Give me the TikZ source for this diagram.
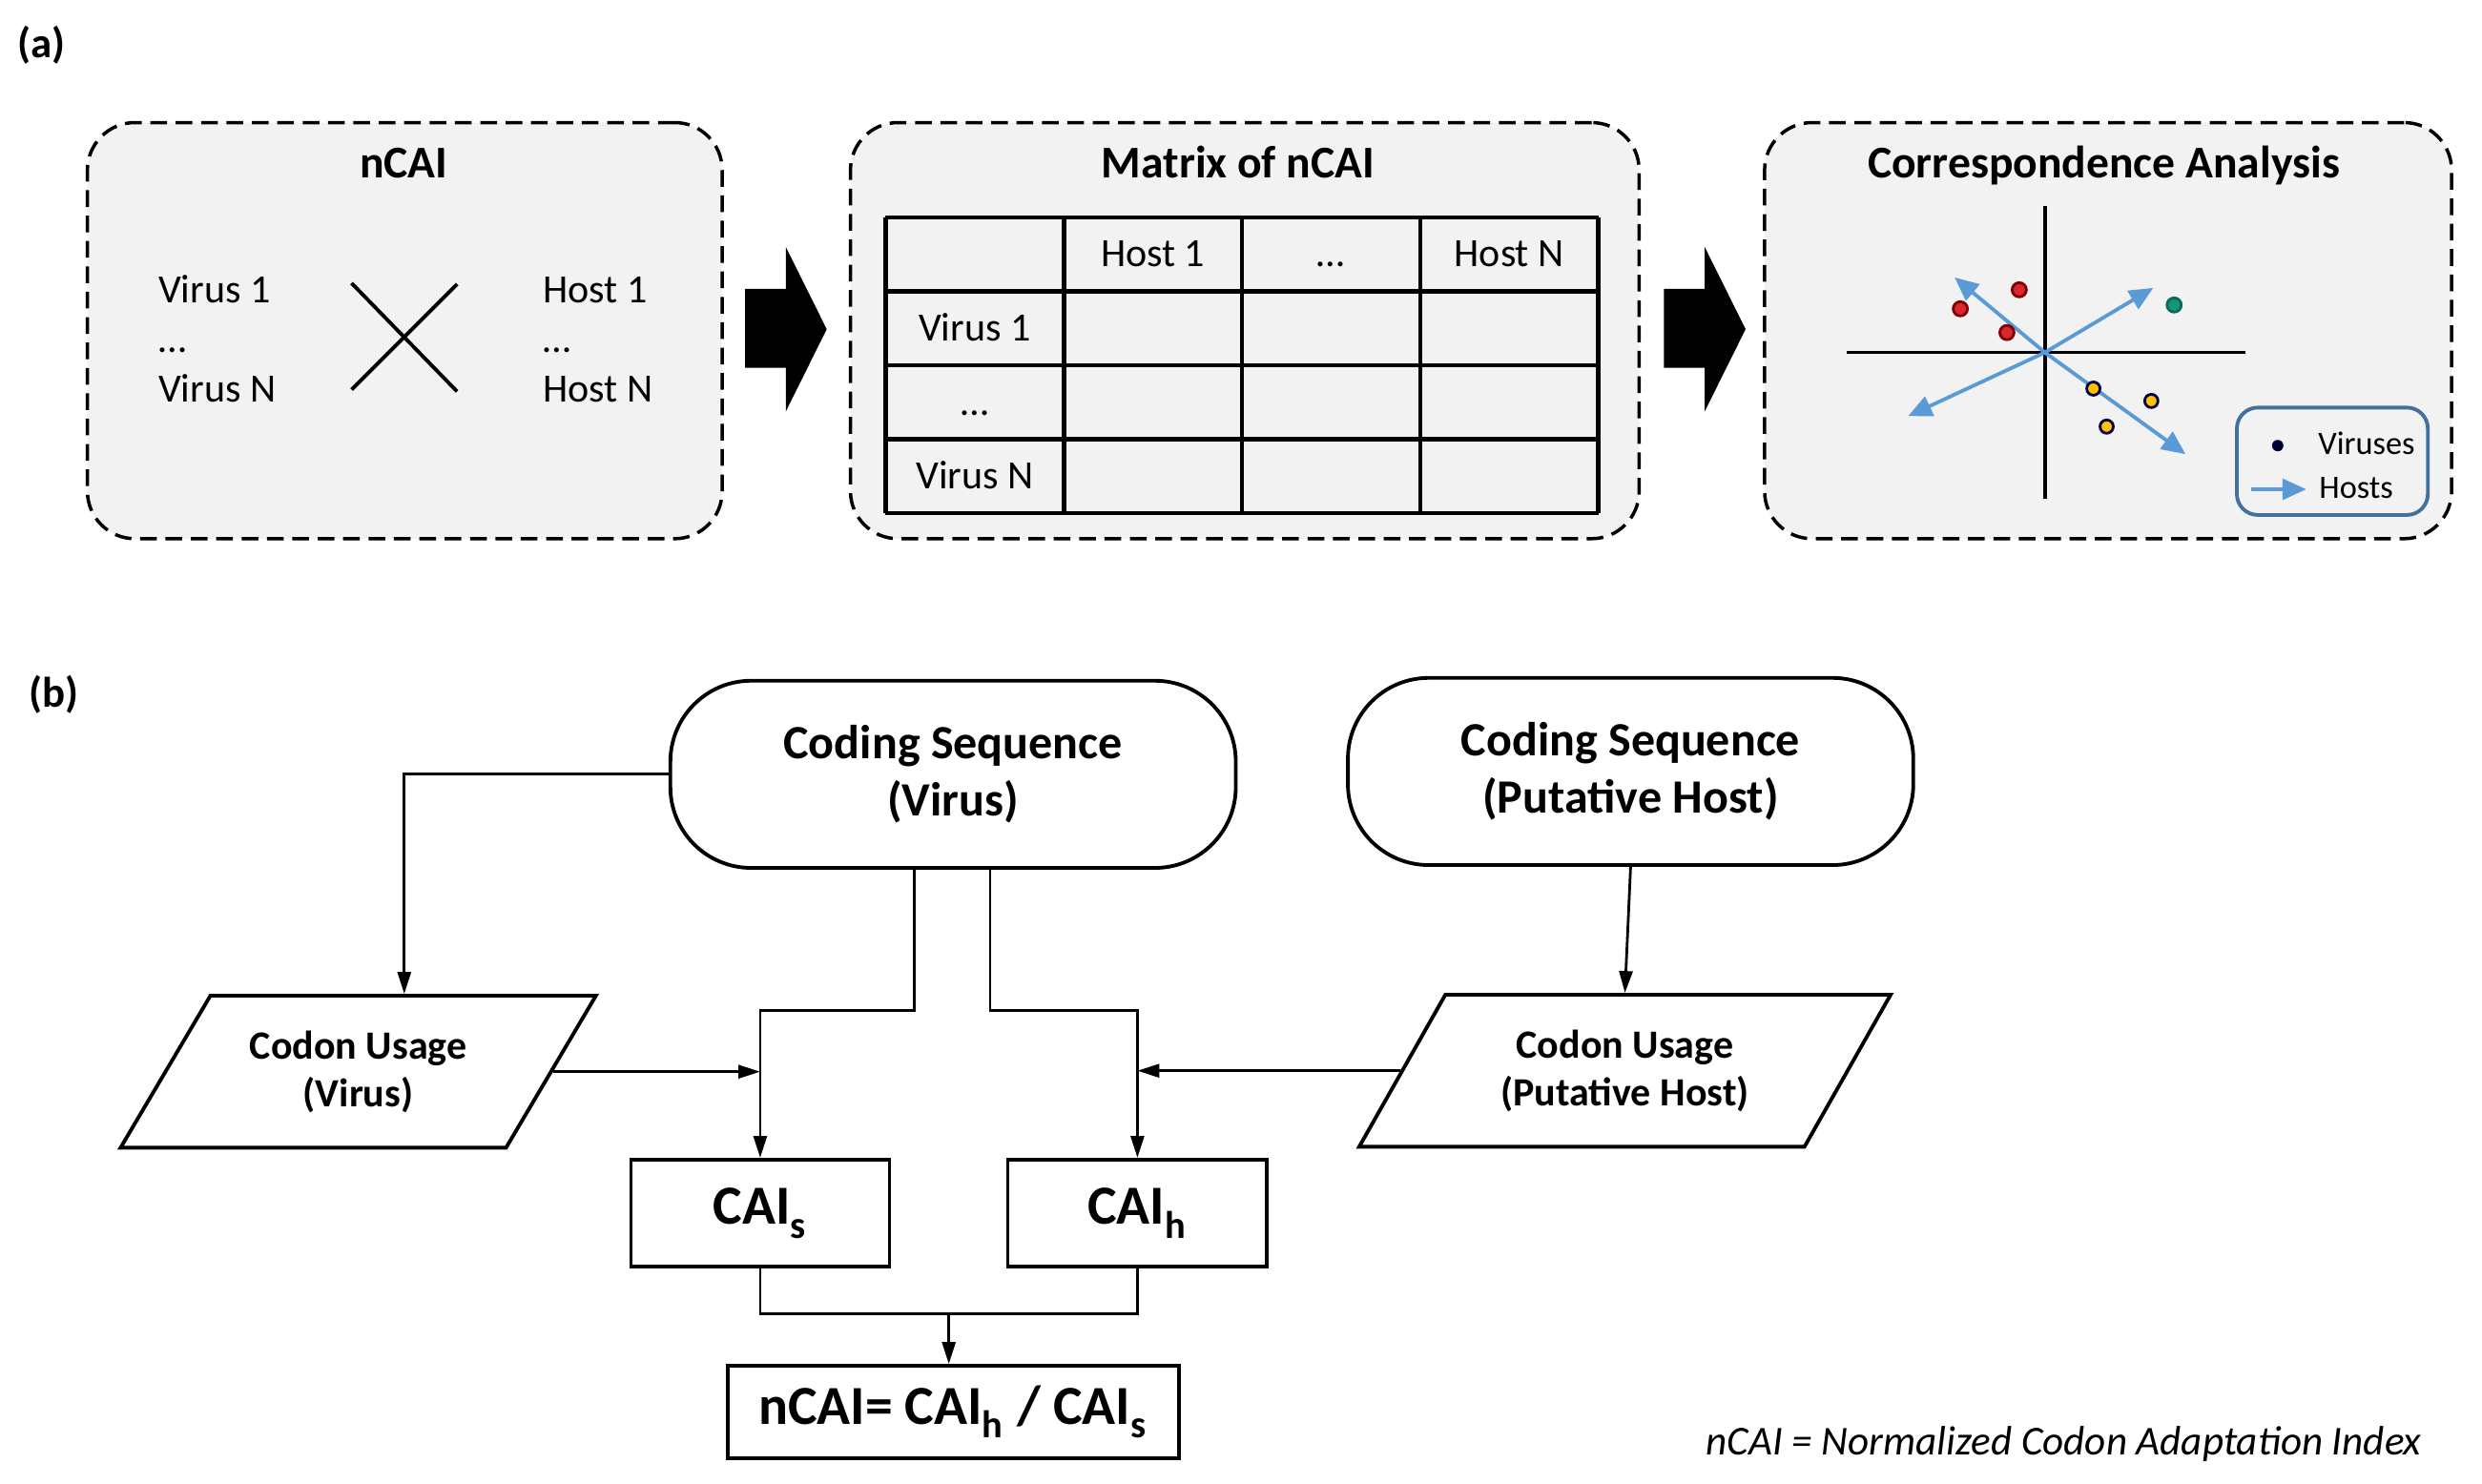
\documentclass[tikz,border=0pt]{standalone}
\usepackage{fontspec}
\setmainfont{Carlito}
\usetikzlibrary{arrows.meta,shapes.geometric,calc}

\definecolor{hostblue}{HTML}{5B9BD5}
\definecolor{lgdblue}{HTML}{41719C}
\definecolor{dotred}{HTML}{D9262F}
\definecolor{dotgreen}{HTML}{13957A}
\definecolor{dotyellow}{HTML}{FFC000}

\tikzset{
  panel/.style={draw, dash pattern=on 5pt off 2.6pt, line width=1pt, fill=gray!10,
    rounded corners=0.5cm, minimum height=4.38cm},
  ptitle/.style={inner sep=0pt, anchor=base, font=\fontsize{13.6}{16}\selectfont\bfseries},
  txt/.style={inner sep=0pt, anchor=base west, font=\fontsize{12}{14}\selectfont},
  cell/.style={inner sep=0pt, anchor=base, font=\fontsize{12}{14}\selectfont},
  tbl/.style={line width=1.3pt},
  hostarrow/.style={hostblue, line width=1.1pt, -{Triangle[length=0.25cm,width=0.22cm]}},
  codseq/.style={draw, line width=1.1pt, rounded corners=0.85cm, minimum width=5.95cm,
    minimum height=1.97cm, align=center, font=\fontsize{14.3}{17.2}\selectfont\bfseries},
  usage/.style={draw, line width=1.1pt, trapezium, trapezium stretches=true,
    minimum height=1.6cm, align=center, font=\fontsize{12}{14.2}\selectfont\bfseries},
  caibox/.style={draw, line width=1.1pt, minimum height=1.13cm,
    font=\fontsize{16.5}{19}\selectfont\bfseries},
  line/.style={line width=0.8pt},
  conn/.style={line width=0.8pt, -{Triangle[length=0.23cm,width=0.14cm]}}
}
\newcommand{\lowsub}[1]{\raisebox{-0.2ex}{\textsubscript{#1}}}

\begin{document}
\begin{tikzpicture}
  \useasboundingbox (0,0) rectangle (26.12,-15.61);

  % (a) three panels
  \node[inner sep=0pt, anchor=west, font=\fontsize{12.8}{15}\selectfont\bfseries] (labela) at (0.18,-0.47) {(a)};
  \node[panel, minimum width=6.68cm] (ncaibox) at (4.26,-3.48) {};
  \node[panel, minimum width=8.30cm] (matbox) at (13.10,-3.48) {};
  \node[panel, minimum width=7.23cm] (cabox) at (22.185,-3.48) {};

  \node[ptitle] (ncaititle) at (4.25,-1.87) {nCAI};
  \node[ptitle] (mattitle) at (13.03,-1.87) {Matrix of nCAI};
  \node[ptitle] (catitle) at (22.14,-1.87) {Correspondence Analysis};

  % virus x host
  \node[txt] (v1) at (1.66,-3.19) {Virus 1};
  \node[txt] (vdots) at (1.66,-3.71) {…};
  \node[txt] (vn) at (1.66,-4.23) {Virus N};
  \node[txt] (h1) at (5.71,-3.19) {Host 1};
  \node[txt] (hdots) at (5.71,-3.71) {…};
  \node[txt] (hn) at (5.71,-4.23) {Host N};
  \draw[line width=1.1pt] (3.70,-2.98) -- (4.81,-4.12);
  \draw[line width=1.1pt] (4.81,-2.99) -- (3.70,-4.10);

  % block arrows
  \foreach \x in {7.84,17.51}
    \fill (\x,-3.04) -- ++(0.43,0) -- ++(0,0.44) -- ++(0.43,-0.865) -- ++(-0.43,-0.865)
      -- ++(0,0.46) -- ++(-0.43,0) -- cycle;

  % matrix table
  \foreach \i in {0,...,4}
    \draw[tbl] (9.32,-2.29-0.7775*\i) -- ++(7.5,0);
  \foreach \j in {0,...,4}
    \draw[tbl] (9.32+1.875*\j,-2.29) -- ++(0,-3.11);
  \node[cell] (th1) at (12.1325,-2.81) {Host 1};
  \node[cell] (thdots) at (14.0075,-2.81) {…};
  \node[cell] (thn) at (15.8825,-2.81) {Host N};
  \node[cell] (tv1) at (10.2575,-3.59) {Virus 1};
  \node[cell] (tvdots) at (10.2575,-4.37) {…};
  \node[cell] (tvn) at (10.2575,-5.14) {Virus N};

  % correspondence plot
  \coordinate (O) at (21.52,-3.71);
  \draw[line width=1pt] (19.43,-3.71) -- (23.63,-3.71);
  \draw[line width=1pt] (21.52,-2.17) -- (21.52,-5.25);
  \draw[hostarrow] (O) -- (20.57,-2.92);
  \draw[hostarrow] (O) -- (22.66,-3.03);
  \draw[hostarrow] (O) -- (20.08,-4.38);
  \draw[hostarrow] (O) -- (23.00,-4.78);
  \foreach \px/\py in {20.63/-3.25, 21.25/-3.05, 21.12/-3.50}
    \draw[fill=dotred, draw=red!50!black, line width=0.8pt] (\px,\py) circle (0.075);
  \draw[fill=dotgreen, draw=dotgreen!70!black, line width=0.8pt] (22.88,-3.21) circle (0.075);
  \foreach \px/\py in {22.03/-4.09, 22.64/-4.22, 22.17/-4.49}
    \draw[fill=dotyellow, draw=black!70!blue, line width=0.8pt] (\px,\py) circle (0.07);

  % legend
  \node[draw=lgdblue, line width=1.1pt, rounded corners=0.22cm, fill=gray!10,
    minimum width=2.01cm, minimum height=1.13cm] (lgd) at (24.545,-4.855) {};
  \fill[black!80!blue] (23.97,-4.69) circle (0.06);
  \node[inner sep=0pt, anchor=west, font=\fontsize{9.8}{12}\selectfont] (lgdv) at (24.39,-4.67) {Viruses};
  \coordinate (lgda) at (23.69,-5.15);
  \draw[hostarrow, line width=1pt] (lgda) -- ++(0.58,0);
  \node[inner sep=0pt, anchor=west, font=\fontsize{9.8}{12}\selectfont] (lgdh) at (24.40,-5.14) {Hosts};

  % (b) flow chart
  \node[inner sep=0pt, anchor=west, font=\fontsize{12.8}{15}\selectfont\bfseries] (labelb) at (0.3,-7.31) {(b)};
  \node[codseq] (csv) at (10.03,-8.15) {Coding Sequence\\(Virus)};
  \node[codseq] (csh) at (17.16,-8.12) {Coding Sequence\\(Putative Host)};
  \node[usage, minimum width=5.01cm, trapezium left angle=55, trapezium right angle=125]
    (cuv) at (3.77,-11.28) {Codon Usage\\(Virus)};
  \node[usage, minimum width=5.60cm, trapezium left angle=58, trapezium right angle=122]
    (cuh) at (17.10,-11.27) {Codon Usage\\(Putative Host)};
  \node[caibox, minimum width=2.72cm] (cais) at (8.00,-12.77) {CAI\lowsub{s}};
  \node[caibox, minimum width=2.73cm] (caih) at (11.97,-12.77) {CAI\lowsub{h}};
  \node[caibox, minimum width=4.75cm, minimum height=0.97cm] (ncai) at (10.03,-14.86)
    {nCAI= CAI\lowsub{h} / CAI\lowsub{s}};

  \draw[conn] (csv.west) -| ($(cuv.top left corner)!0.5!(cuv.top right corner)$);
  \draw[conn] ([xshift=-0.41cm]csv.south) -- ++(0,-1.48) -| (cais.north);
  \draw[conn] ([xshift=0.39cm]csv.south) -- ++(0,-1.48) -| (caih.north);
  \draw[conn] (csh.south) -- (cuh.north);
  \draw[conn] (cuv.east) -- (cuv.east -| cais.north);
  \draw[conn] (cuh.west) -- (cuh.west -| caih.north);
  \draw[line] (cais.south) -- ++(0,-0.47) -| (caih.south);
  \coordinate (jn) at ($(cais.south)!0.5!(caih.south)+(0,-0.47)$);
  \draw[conn] (jn) -- (jn |- ncai.north);

  \node[inner sep=0pt, anchor=base east, font=\fontsize{12.3}{14}\selectfont\itshape] (note) at (25.49,-15.31)
    {nCAI = Normalized Codon Adaptation Index};
\end{tikzpicture}
\end{document}
